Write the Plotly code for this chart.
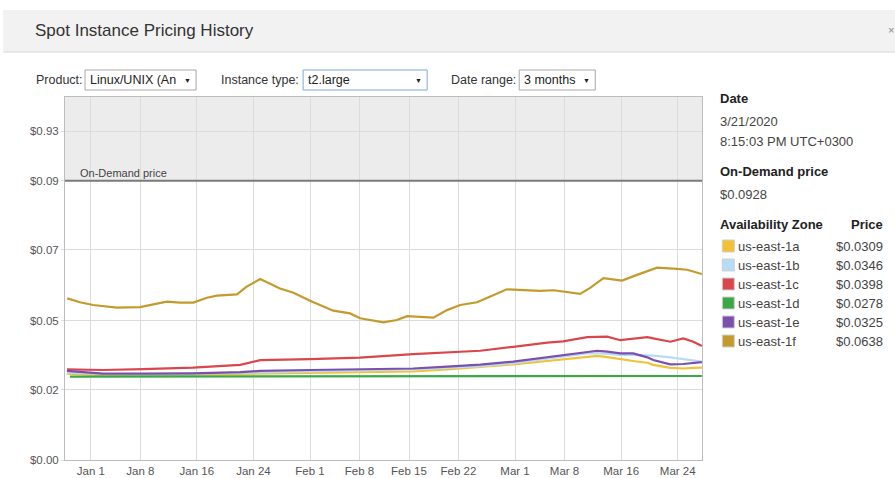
import plotly.graph_objects as go

# ---------------- data ----------------
zones = ["us-east-1a", "us-east-1b", "us-east-1c", "us-east-1d", "us-east-1e", "us-east-1f"]
zone_prices = ["$0.0309", "$0.0346", "$0.0398", "$0.0278", "$0.0325", "$0.0638"]
zone_colors = ["#f2c233", "#b7dcf5", "#d9464c", "#3aa845", "#7b4fae", "#c49a2c"]

on_demand_price = 0.0928

dates_1f = ["2019-12-28 16:00", "2019-12-30 11:00", "2020-01-01 08:00", "2020-01-04 16:00", "2020-01-07 23:00",
            "2020-01-09 20:00", "2020-01-11 18:00", "2020-01-13 15:00", "2020-01-15 12:00", "2020-01-17 10:00",
            "2020-01-18 20:00", "2020-01-21 16:00", "2020-01-23 01:00", "2020-01-24 23:00", "2020-01-27 18:00",
            "2020-01-29 16:00", "2020-02-01 00:00", "2020-02-04 07:00", "2020-02-06 16:00", "2020-02-08 02:00",
            "2020-02-11 09:00", "2020-02-13 07:00", "2020-02-14 17:00", "2020-02-18 11:00", "2020-02-20 09:00",
            "2020-02-22 06:00", "2020-02-24 15:00", "2020-02-26 12:00", "2020-02-28 20:00", "2020-03-04 13:00",
            "2020-03-06 11:00", "2020-03-10 05:00", "2020-03-11 15:00", "2020-03-13 12:00", "2020-03-16 03:00",
            "2020-03-18 06:00", "2020-03-21 02:00", "2020-03-23 22:00", "2020-03-25 08:00", "2020-03-27 10:00"]
price_1f = [0.0537, 0.0524, 0.0515, 0.0506, 0.0508, 0.0517, 0.0526, 0.0523, 0.0523, 0.0539,
            0.0546, 0.0550, 0.0576, 0.0601, 0.0570, 0.0556, 0.0529, 0.0496, 0.0487, 0.0471,
            0.0457, 0.0465, 0.0478, 0.0473, 0.0498, 0.0515, 0.0524, 0.0543, 0.0567, 0.0562,
            0.0564, 0.0552, 0.0572, 0.0604, 0.0596, 0.0615, 0.0639, 0.0635, 0.0632, 0.0618]

dates_low = ["2019-12-28 15:00", "2020-01-02 17:00", "2020-01-08 09:00", "2020-01-15 11:00", "2020-01-22 03:00",
             "2020-01-24 23:00", "2020-02-01 00:00", "2020-02-08 02:00", "2020-02-15 14:00", "2020-02-20 10:00",
             "2020-02-25 02:00", "2020-02-29 18:00", "2020-03-05 13:00", "2020-03-07 19:00", "2020-03-11 05:00",
             "2020-03-12 15:00", "2020-03-14 01:00", "2020-03-15 21:00", "2020-03-17 17:00", "2020-03-19 17:00",
             "2020-03-20 13:00", "2020-03-22 23:00", "2020-03-24 19:00", "2020-03-26 05:00", "2020-03-27 10:00"]
price_1c = [0.0301, 0.0299, 0.0302, 0.0307, 0.0316, 0.0332, 0.0335, 0.0340, 0.0352, 0.0357,
            0.0363, 0.0376, 0.0390, 0.0394, 0.0408, 0.0409, 0.0410, 0.0398, 0.0402, 0.0408,
            0.0404, 0.0393, 0.0404, 0.0393, 0.0379]
price_1e = [0.0296, 0.0287, 0.0287, 0.0288, 0.0292, 0.0296, 0.0299, 0.0301, 0.0304, 0.0310,
            0.0317, 0.0327, 0.0341, 0.0349, 0.0360, 0.0363, 0.0360, 0.0354, 0.0354, 0.0341,
            0.0332, 0.0318, 0.0319, 0.0322, 0.0325]
price_1b = [0.0291, 0.0286, 0.0284, 0.0286, 0.0289, 0.0291, 0.0294, 0.0297, 0.0301, 0.0306,
            0.0312, 0.0322, 0.0336, 0.0343, 0.0354, 0.0355, 0.0352, 0.0349, 0.0349, 0.0349,
            0.0347, 0.0341, 0.0336, 0.0331, 0.0327]
price_1a = [0.0287, 0.0282, 0.0282, 0.0284, 0.0286, 0.0288, 0.0289, 0.0291, 0.0294, 0.0301,
            0.0309, 0.0318, 0.0329, 0.0335, 0.0344, 0.0346, 0.0342, 0.0335, 0.0329, 0.0323,
            0.0316, 0.0306, 0.0304, 0.0306, 0.0307]

dates_1d = ["2019-12-29 01:00", "2020-01-15 11:00", "2020-02-08 02:00", "2020-03-01 00:00",
            "2020-03-20 13:00", "2020-03-27 10:00"]
price_1d = [0.0277, 0.0277, 0.0278, 0.0278, 0.0278, 0.0279]

x_tick_vals = ["2020-01-01", "2020-01-08", "2020-01-16", "2020-01-24", "2020-02-01", "2020-02-08",
               "2020-02-15", "2020-02-22", "2020-03-01", "2020-03-08", "2020-03-16", "2020-03-24"]
x_tick_text = ["Jan 1", "Jan 8", "Jan 16", "Jan 24", "Feb 1", "Feb 8",
               "Feb 15", "Feb 22", "Mar 1", "Mar 8", "Mar 16", "Mar 24"]
y_tick_vals = [0.0, 0.0233, 0.0462, 0.0698, 0.0928, 0.1093]
y_tick_text = ["$0.00", "$0.02", "$0.05", "$0.07", "$0.09", "$0.93"]

x_range = ["2019-12-28 08:24", "2020-03-27 10:30"]
y_range = [0.0, 0.1206]

# ---------------- layout helpers (pixel -> paper) ----------------
W, H = 895, 478
PL, PR, PT, PB = 65, 701.7, 97, 460


def px(x):
    return (x - PL) / (PR - PL)


def py(y):
    return (PB - y) / (PB - PT)


FONT = "Liberation Sans, Arial, sans-serif"

fig = go.Figure()

series = [
    (zones[0], dates_low, price_1a, zone_colors[0]),
    (zones[1], dates_low, price_1b, zone_colors[1]),
    (zones[2], dates_low, price_1c, zone_colors[2]),
    (zones[3], dates_1d, price_1d, zone_colors[3]),
    (zones[4], dates_low, price_1e, zone_colors[4]),
    (zones[5], dates_1f, price_1f, zone_colors[5]),
]
for name, xs, ys, col in series:
    fig.add_trace(go.Scatter(x=xs, y=ys, mode="lines", name=name,
                             line=dict(color=col, width=2.2), showlegend=False,
                             hoverinfo="skip"))

shapes = []
annotations = []

# shaded region above on-demand
shapes.append(dict(type="rect", xref="paper", yref="y", x0=0, x1=1, y0=on_demand_price, y1=y_range[1],
                   fillcolor="#ececec", line=dict(width=0), layer="below"))
# on-demand line
shapes.append(dict(type="line", xref="paper", yref="y", x0=0, x1=1, y0=on_demand_price, y1=on_demand_price,
                   line=dict(color="#7a7a7a", width=2)))
annotations.append(dict(xref="paper", yref="y", x=px(78), y=on_demand_price, text="On-Demand price",
                        showarrow=False, xanchor="left", yanchor="bottom", yshift=0,
                        font=dict(family=FONT, size=11, color="#444")))

# header bar
shapes.append(dict(type="rect", xref="paper", yref="paper", x0=px(3), x1=px(895), y0=py(10), y1=py(52),
                   fillcolor="#f2f2f2", line=dict(width=0), layer="below"))
shapes.append(dict(type="line", xref="paper", yref="paper", x0=px(3), x1=px(895), y0=py(52), y1=py(52),
                   line=dict(color="#d8d8d8", width=1)))
annotations.append(dict(xref="paper", yref="paper", x=px(33), y=py(31), text="Spot Instance Pricing History",
                        showarrow=False, xanchor="left", yanchor="middle",
                        font=dict(family=FONT, size=17, color="#333")))
annotations.append(dict(xref="paper", yref="paper", x=px(886), y=py(30), text="×",
                        showarrow=False, xanchor="left", yanchor="middle",
                        font=dict(family=FONT, size=11, color="#888")))

# controls row
ctrl_y = py(80)
labels = [("Product:", 34), ("Instance type:", 219), ("Date range:", 449)]
for txt, x in labels:
    annotations.append(dict(xref="paper", yref="paper", x=px(x), y=ctrl_y, text=txt, showarrow=False,
                            xanchor="left", yanchor="middle", font=dict(family=FONT, size=12.5, color="#333")))
boxes = [(85, 196, "#a9a9a9", "Linux/UNIX (An", 187),
         (303, 427, "#7fa9d9", "t2.large", 418),
         (519, 595, "#a9a9a9", "3 months", 586)]
for x0, x1, bc, txt, ax in boxes:
    shapes.append(dict(type="rect", xref="paper", yref="paper", x0=px(x0), x1=px(x1), y0=py(90), y1=py(70),
                       fillcolor="#ffffff", line=dict(color=bc, width=1)))
    annotations.append(dict(xref="paper", yref="paper", x=px(x0 + 3), y=ctrl_y, text=txt, showarrow=False,
                            xanchor="left", yanchor="middle", font=dict(family=FONT, size=12.5, color="#222")))
    annotations.append(dict(xref="paper", yref="paper", x=px(ax), y=ctrl_y, text="▼", showarrow=False,
                            xanchor="center", yanchor="middle", font=dict(family=FONT, size=7, color="#222")))

# right info panel
RX = 718
info = [("<b>Date</b>", 99, "#222"),
        ("3/21/2020", 121, "#444"),
        ("8:15:03 PM UTC+0300", 141, "#444"),
        ("<b>On-Demand price</b>", 171, "#222"),
        ("$0.0928", 194, "#444"),
        ("<b>Availability Zone</b>", 224, "#222")]
for txt, y, c in info:
    annotations.append(dict(xref="paper", yref="paper", x=px(RX), y=py(y), text=txt, showarrow=False,
                            xanchor="left", yanchor="middle", font=dict(family=FONT, size=13, color=c)))
annotations.append(dict(xref="paper", yref="paper", x=px(885), y=py(224), text="<b>Price</b>", showarrow=False,
                        xanchor="right", yanchor="middle", font=dict(family=FONT, size=13, color="#222")))
row_y = [246, 265, 284, 303, 322, 341]
for i, (z, p, c) in enumerate(zip(zones, zone_prices, zone_colors)):
    y = row_y[i]
    shapes.append(dict(type="rect", xref="paper", yref="paper", x0=px(722), x1=px(734), y0=py(y + 6), y1=py(y - 6),
                       fillcolor=c, line=dict(color="#cfcfcf", width=1)))
    annotations.append(dict(xref="paper", yref="paper", x=px(736), y=py(y), text=z, showarrow=False,
                            xanchor="left", yanchor="middle", font=dict(family=FONT, size=13, color="#444")))
    annotations.append(dict(xref="paper", yref="paper", x=px(885), y=py(y), text=p, showarrow=False,
                            xanchor="right", yanchor="middle", font=dict(family=FONT, size=13, color="#444")))

fig.update_layout(
    width=W, height=H,
    margin=dict(l=PL, r=W - PR, t=PT, b=H - PB, pad=0),
    paper_bgcolor="#ffffff", plot_bgcolor="#ffffff",
    font=dict(family=FONT, size=11, color="#555"),
    shapes=shapes, annotations=annotations,
    showlegend=False,
    hovermode=False,
    xaxis=dict(type="date", range=x_range, tickvals=x_tick_vals, ticktext=x_tick_text,
               showgrid=True, gridcolor="#dcdcdc", gridwidth=1, zeroline=False,
               showline=True, linecolor="#bdbdbd", linewidth=1, mirror=True,
               ticks="", tickfont=dict(family=FONT, size=11.5, color="#555"), automargin=False),
    yaxis=dict(range=y_range, tickvals=y_tick_vals, ticktext=y_tick_text,
               showgrid=True, gridcolor="#dcdcdc", gridwidth=1, zeroline=False,
               showline=True, linecolor="#bdbdbd", linewidth=1, mirror=True,
               ticks="outside", ticklen=3, tickcolor="#dcdcdc",
               tickfont=dict(family=FONT, size=11.5, color="#555"), automargin=False),
)

fig.write_html("out.html", config={"displayModeBar": False},
               post_script="document.body.style.margin='0';document.body.style.overflow='hidden';")
